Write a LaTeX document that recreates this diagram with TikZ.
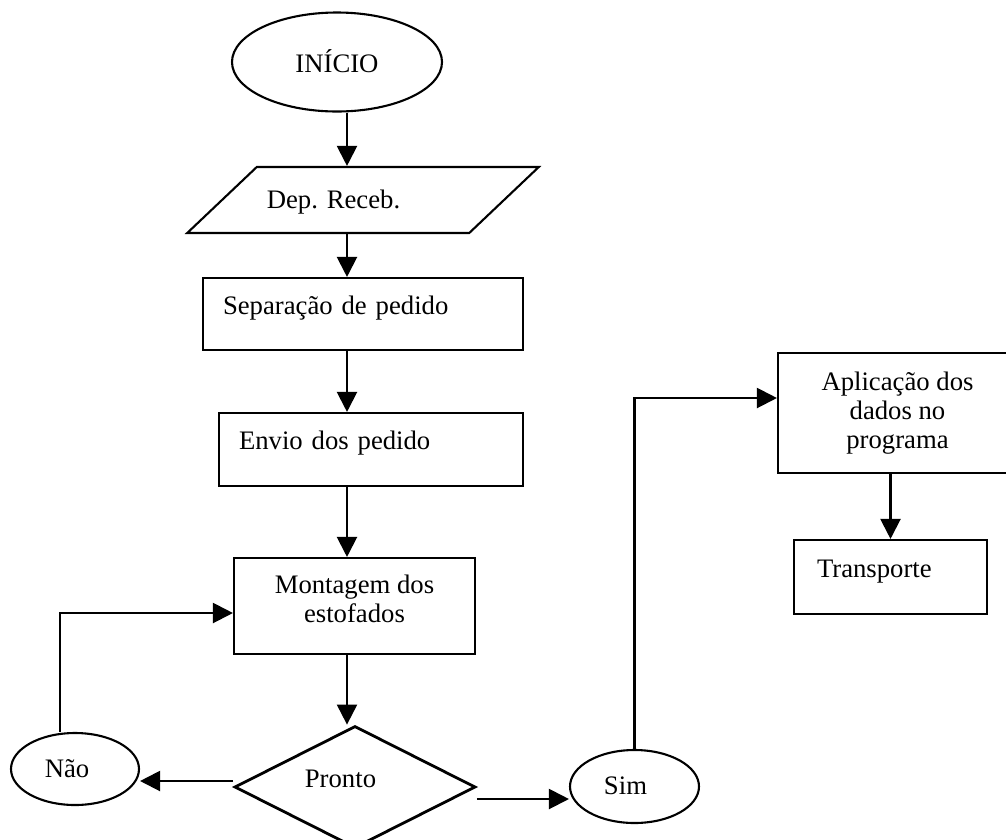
\documentclass[tikz,border=0pt]{standalone}
\usepackage{fontspec}
\setmainfont{Liberation Serif}
\usetikzlibrary{shapes.geometric,arrows.meta}

\begin{document}
\begin{tikzpicture}[x=1pt,y=-1pt,
  every node/.style={font=\fontsize{26.7pt}{29pt}\selectfont, inner sep=0pt},
  outline/.style={draw=black, line width=2.1pt},
  procbox/.style={outline, rectangle, align=left, text height=10pt, text depth=10pt},
  multibox/.style={outline, rectangle, align=center},
  oval/.style={outline, ellipse, text height=18pt, text depth=2pt},
  iobox/.style={outline, trapezium, trapezium left angle=43.5, trapezium right angle=136.5,
    trapezium stretches body, inner xsep=10pt, inner ysep=23pt, text height=18pt, text depth=2pt},
  decision/.style={draw=black, line width=2.8pt, diamond, aspect=2, text height=10pt, text depth=10pt},
  arr/.style={line width=2.1pt, -{Triangle[length=20pt,width=20pt]}},
]
\clip (0,0) rectangle (1006,839);
\fill[white] (0,0) rectangle (1006,839);

% main column
\node[oval, minimum width=210pt, minimum height=99pt, text height=22pt] (ini) at (337,62) {INÍCIO};
\node[iobox, minimum width=350pt] (dep) at (363,200) {Dep. Receb.\kern59pt};
\node[procbox, minimum width=320pt, minimum height=72pt, text width=280pt, inner xsep=20pt] (sep) at (363,314) {Separação de pedido};
\node[procbox, minimum width=304pt, minimum height=73pt, text width=264pt, inner xsep=20pt] (env) at (371,449.5) {Envio dos pedido};
\node[multibox, minimum width=241pt, minimum height=96pt] (mont) at (354.5,606)
  {\rule{0pt}{20pt}Montagem dos\\estofados\rule[-17pt]{0pt}{17pt}};
\node[decision, minimum width=241pt, minimum height=122pt] (pr) at (355,787) {Pronto\kern29pt};

% answers
\node[oval, minimum width=128pt, minimum height=72pt] (nao) at (75,769) {Não\kern16pt};
\node[oval, minimum width=129pt, minimum height=73pt] (sim) at (634.5,786.5) {Sim\kern18pt};

% right column (the process box runs past the right margin)
\node[multibox, minimum width=239pt, minimum height=120pt] (apl) at (897.5,413)
  {\rule{0pt}{20pt}Aplicação dos\\dados no\\programa\rule[-8pt]{0pt}{8pt}};
\node[procbox, minimum width=193pt, minimum height=74pt, text width=147pt, inner xsep=23pt] (trans) at (890.5,577) {Transporte};

% guide coordinates for the connectors
\coordinate (spine) at (347,0);
\coordinate (fb) at (60,613);
\coordinate (nl) at (0,781);
\coordinate (sl) at (0,799);
\coordinate (al) at (0,398);

% connectors
\draw[arr] (ini.south -| spine) -- (dep.north -| spine);
\draw[arr] (dep.south -| spine) -- (sep.north -| spine);
\draw[arr] (sep.south -| spine) -- (env.north -| spine);
\draw[arr] (env.south -| spine) -- (mont.north -| spine);
\draw[arr] (mont.south -| spine) -- (pr.north -| spine);
\draw[arr] (pr.west |- nl) -- (nao.east |- nl);
\draw[arr] (nao.north -| fb) |- (mont.west |- fb);
\draw[arr] (pr.east |- sl) -- (sim.west |- sl);
\draw[arr] (sim.north) |- (apl.west |- al);
\draw[arr] (apl.south -| trans.north) -- (trans.north);
\end{tikzpicture}
\end{document}
